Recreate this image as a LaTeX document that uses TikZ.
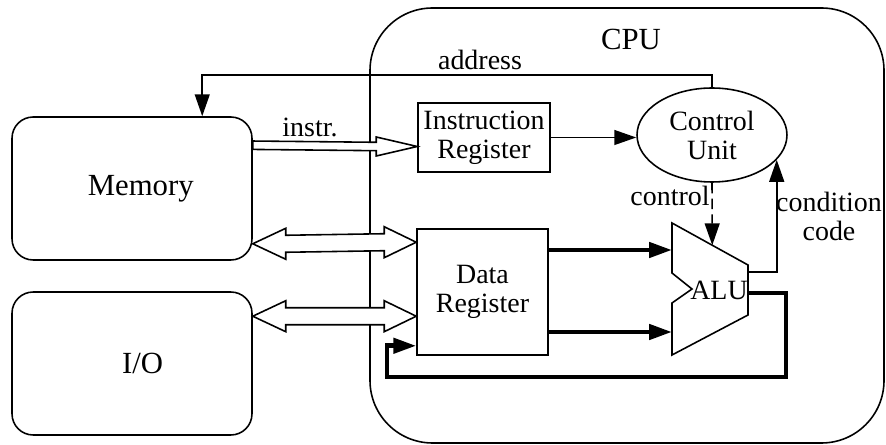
\documentclass[tikz,border=0pt]{standalone}
\usepackage{fontspec}
\setmainfont{Liberation Serif}
\usetikzlibrary{arrows.meta}
\usetikzlibrary{shapes.geometric}
\usetikzlibrary{calc}
\tikzset{
    lbl/.style = {align=center, inner sep=0pt, font=\fontsize{15.9}{16.5}\selectfont},
    biglbl/.style = {align=center, inner sep=0pt, font=\fontsize{17.5}{19}\selectfont},
    unit_box/.style = {biglbl, rectangle, draw=black, rounded corners=12pt, line width=0.9pt, minimum width=4.8cm, minimum height=2.86cm},
    reg_box/.style = {lbl, rectangle, draw=black, line width=0.9pt},
    ctl_node/.style = {lbl, ellipse, draw=black, line width=0.9pt, minimum width=3cm, minimum height=1.88cm},
    cpu_box/.style = {draw=black, rounded corners=1.25cm, line width=0.9pt},
    alu_shape/.style = {draw=black, line width=0.9pt, line join=miter},
    arr/.style = {-{Triangle[length=12.5pt, width=8.5pt]}, line width=0.9pt},
    bus/.style = {-{Triangle[length=13pt, width=8.5pt]}, line width=2.6pt},
    hollow/.style = {draw=black, fill=white, line width=0.9pt, line join=miter}
}
% hollow arrows, left to right
\newcommand{\singlehollow}[2]{%
    \draw[hollow] ($(#1)+(0,-4.2)$) -- ($(#2)+(-41,-4.2)$) -- ($(#2)+(-41,-9.5)$) -- (#2)
        -- ($(#2)+(-41,9.5)$) -- ($(#2)+(-41,4.2)$) -- ($(#1)+(0,4.2)$) -- cycle;}
\newcommand{\doublehollow}[2]{%
    \draw[hollow] (#1) -- ($(#1)+(33,-15.5)$) -- ($(#1)+(33,-8.5)$) -- ($(#2)+(-32,-8.5)$)
        -- ($(#2)+(-32,-15.5)$) -- (#2) -- ($(#2)+(-32,15.5)$) -- ($(#2)+(-32,8.5)$)
        -- ($(#1)+(33,8.5)$) -- ($(#1)+(33,15.5)$) -- cycle;}

\begin{document}
\begin{tikzpicture}[x=0.02cm, y=-0.02cm]
    \useasboundingbox (0,0) rectangle (886,445);

    % CPU outline
    \draw[cpu_box] (370,8) rectangle (884,443);
    \node[biglbl, anchor=base] (cpu_lbl) at (631,50) {CPU};

    % units
    \node[unit_box] (mem) at (132,188.5) {\hspace*{10pt}Memory};
    \node[unit_box] (io) at (132,363.5) {\hspace*{12pt}I/O};
    \node[reg_box, minimum width=2.64cm, minimum height=1.38cm] (ir) at (484,137.5) {Instruction\\Register};
    \node[ctl_node] (cu) at (712,135) {Control\\Unit};
    \node[reg_box, minimum width=2.62cm, minimum height=2.52cm] (dr) at (482.5,292) {Data\\Register};

    % ALU
    \draw[alu_shape] (672,223) coordinate (alu-tl) -- (748,265) coordinate (alu-tr)
        -- (748,315) -- (672,355) -- (672,303) -- (692,289) -- (672,273) -- cycle;
    \node[lbl, anchor=base] (alu_lbl) at (719,300) {ALU};
    \coordinate (alu-in1) at (672,250);
    \coordinate (alu-in2) at (672,332);
    \coordinate (alu-cc) at (748,272);
    \coordinate (alu-out) at (748,293);
    \coordinate (alu-ctl) at ($(alu-tl)!0.53!(alu-tr)$);

    % buses
    \coordinate (mem-ir) at ($(mem.north east)+(0,29)$);
    \coordinate (ir-in) at ($(ir.west)+(0,9)$);
    \coordinate (mem-dr) at ($(mem.south east)+(0,-17)$);
    \coordinate (dr-mem) at ($(dr.north west)+(0,14)$);
    \coordinate (io-dr) at ($(io.north east)+(0,25)$);
    \coordinate (dr-io) at ($(dr.north west)+(0,88)$);
    \singlehollow{mem-ir}{ir-in}
    \doublehollow{mem-dr}{dr-mem}
    \doublehollow{io-dr}{dr-io}
    \node[lbl, anchor=base] (instr_lbl) at (310,137) {instr.};

    % address
    \coordinate (mem-addr) at ($(mem.north west)+(191,0)$);
    \draw[arr] (cu.north) -- ++(0,-12) -| (mem-addr);
    \node[lbl, anchor=base] (addr_lbl) at (480,70) {address};

    \draw[arr] (ir.east) -- (ir.east -| cu.west);
    \draw[arr, dashed, dash pattern=on 6pt off 3pt] (cu.south) -- (alu-ctl);
    \node[lbl, anchor=base] (ctl_lbl) at (670,206) {control};
    \draw[arr] (alu-cc) -| (cu.-21);
    \node[lbl] (cc_lbl) at (829,216) {condition\\code};

    % data paths
    \draw[bus] (dr.east |- alu-in1) -- (alu-in1);
    \draw[bus] (dr.east |- alu-in2) -- (alu-in2);
    \coordinate (fb-r) at (786,377);
    \coordinate (fb-l) at (387,377);
    \draw[bus] (alu-out) -| (fb-r) -- (fb-l) |- ($(dr.south west)+(0,-10)$);
\end{tikzpicture}
\end{document}
